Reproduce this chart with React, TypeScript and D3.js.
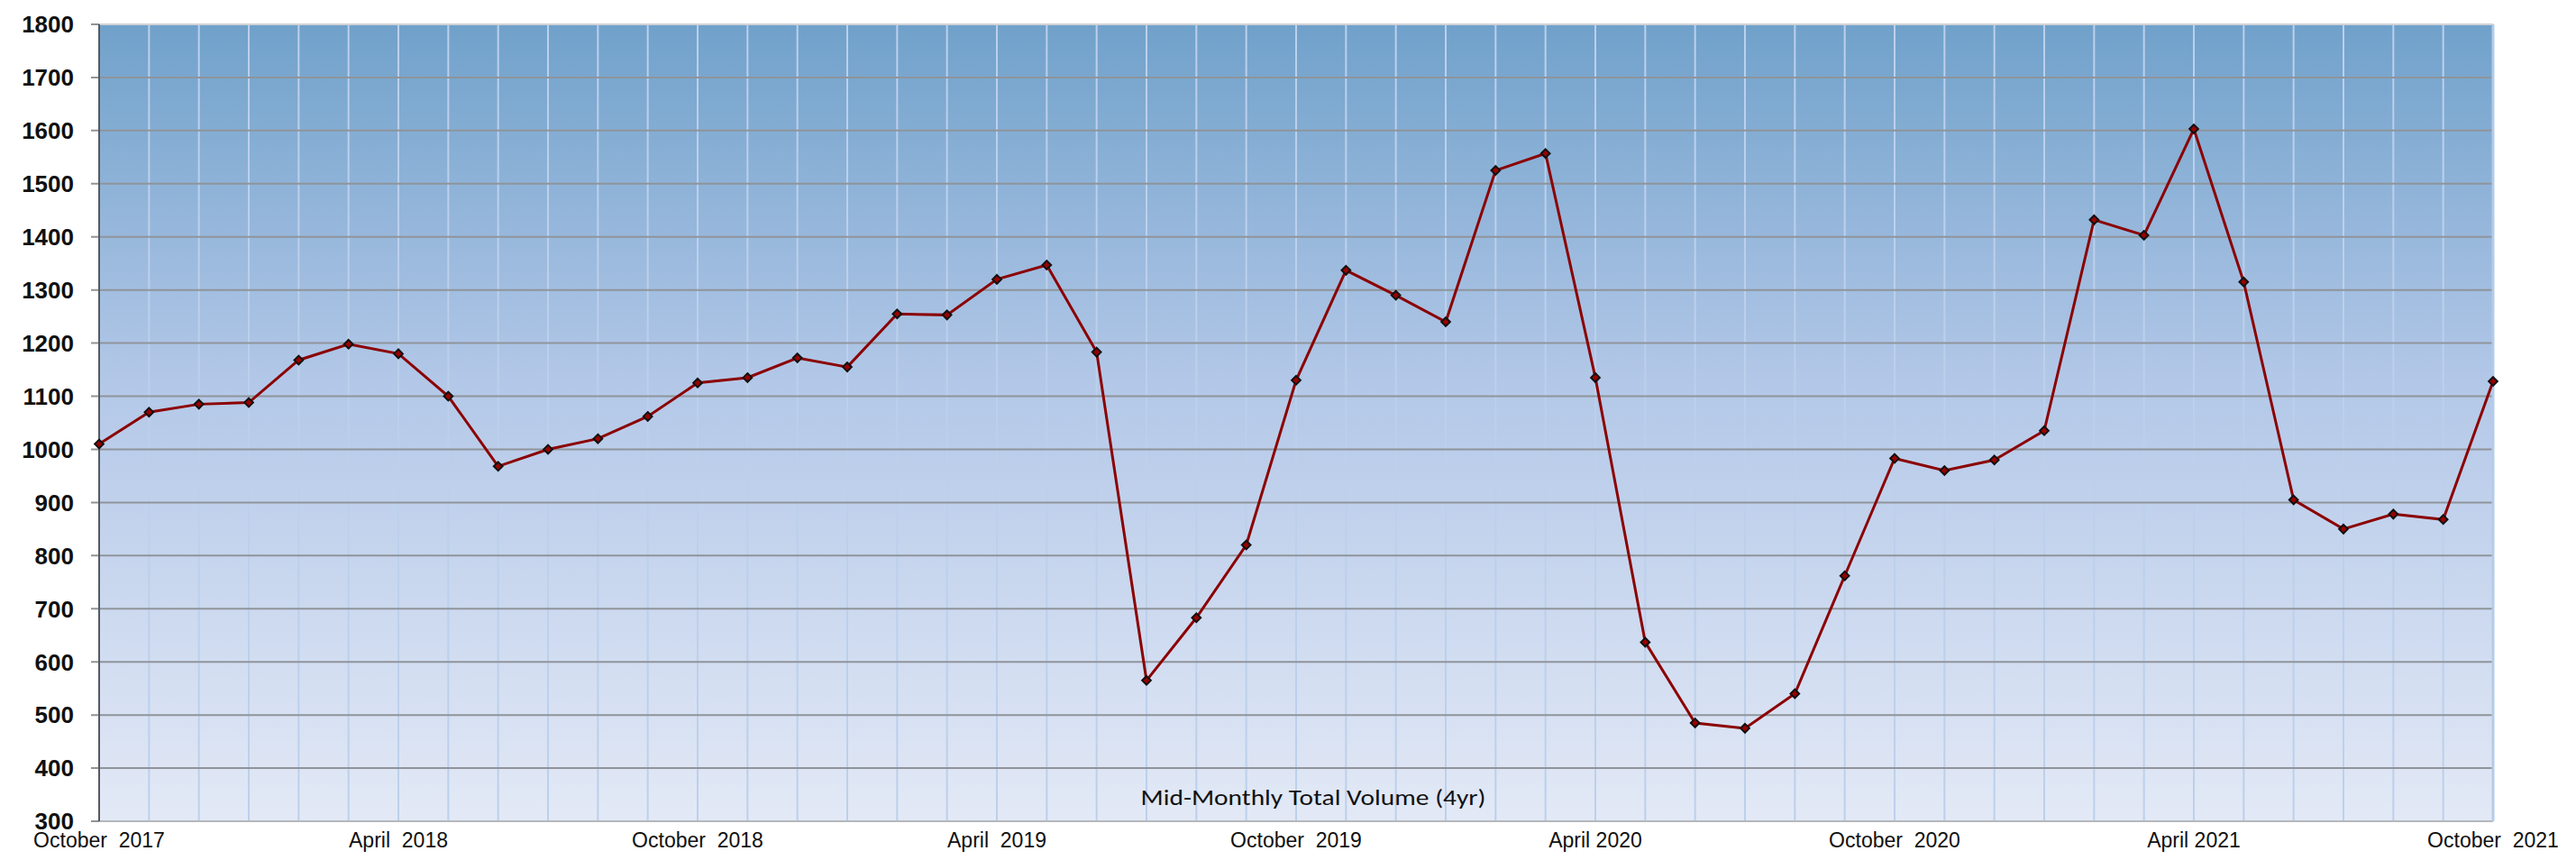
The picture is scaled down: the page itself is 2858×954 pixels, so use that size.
import * as d3 from "d3";

const months = [
  "2017-10", "2017-11", "2017-12",
  "2018-01", "2018-02", "2018-03", "2018-04", "2018-05", "2018-06",
  "2018-07", "2018-08", "2018-09", "2018-10", "2018-11", "2018-12",
  "2019-01", "2019-02", "2019-03", "2019-04", "2019-05", "2019-06",
  "2019-07", "2019-08", "2019-09", "2019-10", "2019-11", "2019-12",
  "2020-01", "2020-02", "2020-03", "2020-04", "2020-05", "2020-06",
  "2020-07", "2020-08", "2020-09", "2020-10", "2020-11", "2020-12",
  "2021-01", "2021-02", "2021-03", "2021-04", "2021-05", "2021-06",
  "2021-07", "2021-08", "2021-09", "2021-10",
];

const volume = [
  1010, 1070, 1085,
  1088, 1168, 1198, 1180, 1100, 968,
  1000, 1020, 1062, 1125, 1135, 1172,
  1155, 1255, 1253, 1320, 1347, 1183,
  565, 683, 820, 1130, 1337, 1290,
  1240, 1525, 1557, 1135, 637, 485,
  475, 540, 762, 983, 960, 980,
  1035, 1432, 1403, 1603, 1315, 905,
  850, 878, 868, 1128,
];

const yTicks = [300, 400, 500, 600, 700, 800, 900, 1000, 1100, 1200, 1300, 1400, 1500, 1600, 1700, 1800];

const xTickMonths = ["2017-10", "2018-04", "2018-10", "2019-04", "2019-10", "2020-04", "2020-10", "2021-04", "2021-10"];
const xTickText = [
  "October  2017", "April  2018", "October  2018", "April  2019", "October  2019",
  "April 2020", "October  2020", "April 2021", "October  2021",
];

const title = "Mid-Monthly Total Volume (4yr)";

const W = 2858;
const H = 954;
const margin = { left: 110, right: 92, top: 27, bottom: 43 };

export default function App() {
  const x = d3
    .scalePoint<string>()
    .domain(months)
    .range([margin.left, W - margin.right]);
  const y = d3
    .scaleLinear()
    .domain([300, 1800])
    .range([H - margin.bottom, margin.top]);

  const line = d3
    .line<number>()
    .x((_, i) => x(months[i])!)
    .y((d) => y(d));

  const x0 = margin.left;
  const x1 = W - margin.right;
  const y0 = H - margin.bottom;
  const y1 = margin.top;

  // diamond marker
  const diamond = d3.symbol().type(d3.symbolDiamond2).size(60)();

  return (
    <svg
      width={W}
      height={H}
      style={{ position: "absolute", left: 0, top: 0, background: "#fff" }}
    >
      <defs>
        <linearGradient id="bg" x1="0" y1="0" x2="0" y2="1">
          <stop offset="0%" stopColor="#70a1ca" />
          <stop offset="45%" stopColor="#b3c8e8" />
          <stop offset="100%" stopColor="#e3e9f6" />
        </linearGradient>
      </defs>

      <rect x={x0} y={y1} width={x1 - x0} height={y0 - y1} fill="url(#bg)" />

      {/* vertical grid */}
      {months.map((m) => (
        <line
          key={m}
          x1={x(m)}
          x2={x(m)}
          y1={y1}
          y2={y0}
          stroke="#bcd0ec"
          strokeWidth={2}
        />
      ))}

      {/* horizontal grid */}
      {yTicks.map((t) => (
        <line
          key={t}
          x1={x0 - 9}
          x2={x1}
          y1={y(t)}
          y2={y(t)}
          stroke="#8f949a"
          strokeWidth={2}
        />
      ))}

      {/* borders */}
      <line x1={x0} x2={x1} y1={y1} y2={y1} stroke="#cfd3d8" strokeWidth={2} />
      <line x1={x0} x2={x1} y1={y0} y2={y0} stroke="#b4b8bd" strokeWidth={2} />
      <line x1={x1} x2={x1} y1={y1} y2={y0} stroke="#b4cbea" strokeWidth={3} />
      <line x1={x0} x2={x0} y1={y1} y2={y0} stroke="#555a60" strokeWidth={2} />

      {/* y labels */}
      {yTicks.map((t) => (
        <text
          key={t}
          x={82}
          y={y(t)}
          dy="0.36em"
          textAnchor="end"
          fontFamily="'Liberation Sans', Arial, sans-serif"
          fontWeight="bold"
          fontSize={26}
          fill="#111"
        >
          {t}
        </text>
      ))}

      {/* x labels */}
      {xTickMonths.map((m, i) => (
        <text
          key={m}
          x={x(m)}
          y={940}
          textAnchor="middle"
          fontFamily="'Liberation Sans', Arial, sans-serif"
          fontSize={23}
          fill="#111"
          style={{ whiteSpace: "pre" }}
        >
          {xTickText[i]}
        </text>
      ))}

      {/* title */}
      <text
        x={1457}
        y={893}
        textAnchor="middle"
        fontFamily="Carlito, 'Open Sans', sans-serif"
        fontSize={25}
        textLength={383}
        lengthAdjust="spacingAndGlyphs"
        fill="#111"
      >
        {title}
      </text>

      {/* series */}
      <path d={line(volume)!} fill="none" stroke="#8b0000" strokeWidth={3} />
      {volume.map((v, i) => (
        <path
          key={months[i]}
          d={diamond!}
          transform={`translate(${x(months[i])},${y(v)})`}
          fill="#9b0000"
          stroke="#111"
          strokeWidth={2}
        />
      ))}
    </svg>
  );
}
